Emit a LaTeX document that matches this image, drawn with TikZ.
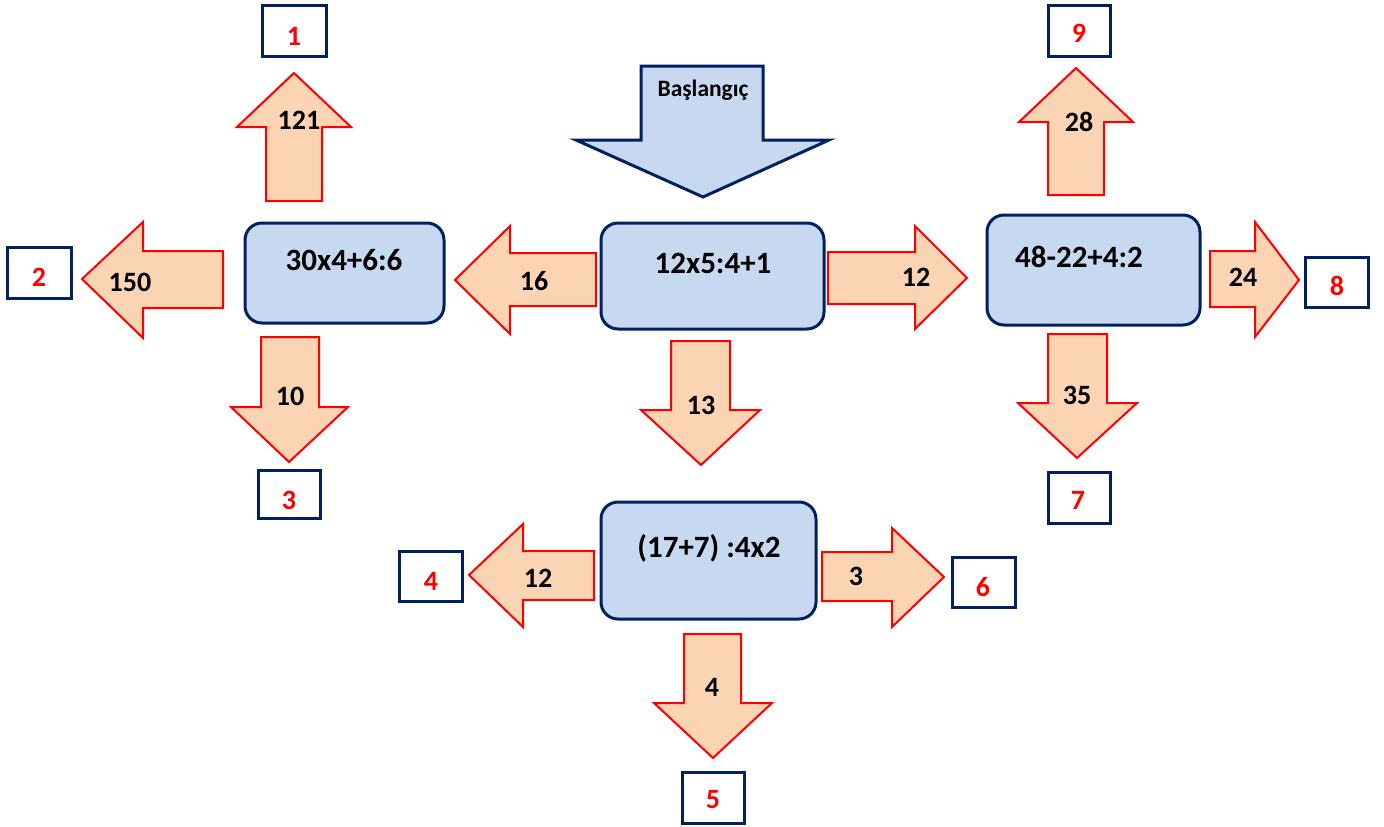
\documentclass[tikz,border=0pt]{standalone}
\usepackage{fontspec}
\setmainfont{Carlito}
\definecolor{peach}{HTML}{FBD4B4}
\definecolor{arrred}{HTML}{FF0000}
\definecolor{navy}{HTML}{002060}
\definecolor{paleblue}{HTML}{C6D9F1}
\tikzset{
  arr/.style={fill=peach, draw=arrred, line width=2pt, line join=miter},
  startarr/.style={fill=paleblue, draw=navy, line width=3pt, line join=miter},
  bluebox/.style={draw=navy, fill=paleblue, line width=3pt, rounded corners=17pt, inner sep=0pt},
  numbox/.style={draw=navy, fill=white, line width=3pt, inner sep=0pt},
  boxtext/.style={inner sep=0pt, font=\bfseries\fontsize{31}{36}\selectfont, text=black},
  arrtext/.style={inner sep=0pt, font=\bfseries\fontsize{28}{33}\selectfont, text=black},
  numtext/.style={inner sep=0pt, font=\bfseries\fontsize{28}{33}\selectfont, text=arrred},
  starttext/.style={inner sep=0pt, font=\bfseries\fontsize{23.5}{28}\selectfont, text=black}
}
\begin{document}
\begin{tikzpicture}[x=1pt, y=-1pt]
\useasboundingbox (0,0) rectangle (1384,827);

% start arrow
\draw[startarr] (641,66) -- (763,66) -- (763,140) -- (829,140) -- (703,197) -- (576,140) -- (641,140) -- cycle;
\node[starttext] (start) at (703,90) {Başlangıç};

% blue boxes
\node[bluebox, minimum width=199pt, minimum height=100pt] (A) at (344.5,273) {};
\node[boxtext] (At) at (344,260) {30x4+6:6};
\node[bluebox, minimum width=223pt, minimum height=106pt] (C) at (712.5,276) {};
\node[boxtext] (Ct) at (713,263) {12x5:4+1};
\node[bluebox, minimum width=213pt, minimum height=110pt] (R) at (1093.5,270) {};
\node[boxtext] (Rt) at (1079,257) {48-22+4:2};
\node[bluebox, minimum width=215pt, minimum height=117pt] (B) at (708.5,560.5) {};
\node[boxtext] (Bt) at (709,548) {(17+7) :4x2};

% arrows
% up 121
\draw[arr] (266,201) -- (266,127) -- (237,127) -- (294,73) -- (351,127) -- (322,127) -- (322,201) -- cycle;
\node[arrtext] (a121) at (299,120) {121};
% left 150
\draw[arr] (223,251) -- (143,251) -- (143,222) -- (82,279) -- (143,338) -- (143,308) -- (223,308) -- cycle;
\node[arrtext] (a150) at (130,282) {150};
% down 10
\draw[arr] (261,337) -- (319,337) -- (319,407) -- (348,407) -- (289,462) -- (231,407) -- (261,407) -- cycle;
\node[arrtext] (a10) at (290,396) {10};
% left 16
\draw[arr] (596,253) -- (510,253) -- (510,226) -- (455,280) -- (510,334) -- (510,306) -- (596,306) -- cycle;
\node[arrtext] (a16) at (534,281) {16};
% right 12
\draw[arr] (828,252) -- (915,252) -- (915,226) -- (967,278) -- (915,329) -- (915,304) -- (828,304) -- cycle;
\node[arrtext] (a12r) at (916,277) {12};
% down 13
\draw[arr] (671,341) -- (730,341) -- (730,410) -- (760,410) -- (701,465) -- (641,410) -- (671,410) -- cycle;
\node[arrtext] (a13) at (701,405) {13};
% up 28
\draw[arr] (1048,195) -- (1048,122) -- (1019,122) -- (1076,68) -- (1133,122) -- (1104,122) -- (1104,195) -- cycle;
\node[arrtext] (a28) at (1079,122) {28};
% right 24
\draw[arr] (1210,251) -- (1255,251) -- (1255,222) -- (1299,280) -- (1255,337) -- (1255,307) -- (1210,307) -- cycle;
\node[arrtext] (a24) at (1243,277) {24};
% down 35
\draw[arr] (1048,334) -- (1107,334) -- (1107,403) -- (1137,403) -- (1077,458) -- (1018,403) -- (1048,403) -- cycle;
\node[arrtext] (a35) at (1077,395) {35};
% left 12 bottom
\draw[arr] (594,551) -- (523,551) -- (523,524) -- (469,575) -- (523,627) -- (523,600) -- (594,600) -- cycle;
\node[arrtext] (a12l) at (538,578) {12};
% right 3
\draw[arr] (822,552) -- (892,552) -- (892,528) -- (944,577) -- (892,627) -- (892,601) -- (822,601) -- cycle;
\node[arrtext] (a3) at (856,576) {3};
% down 4
\draw[arr] (684,634) -- (741,634) -- (741,703) -- (772,703) -- (713,758) -- (654,703) -- (684,703) -- cycle;
\node[arrtext] (a4) at (712,687) {4};

% number boxes
\node[numbox, minimum width=64pt, minimum height=51pt] (n1) at (294,30.5) {};
\node[numtext] (t1) at (294,36) {1};
\node[numbox, minimum width=64pt, minimum height=51pt] (n2) at (39,272.5) {};
\node[numtext] (t2) at (39,277) {2};
\node[numbox, minimum width=62pt, minimum height=48pt] (n3) at (289,494) {};
\node[numtext] (t3) at (289,500) {3};
\node[numbox, minimum width=63pt, minimum height=50pt] (n4) at (430.5,576) {};
\node[numtext] (t4) at (431,581) {4};
\node[numbox, minimum width=62pt, minimum height=51pt] (n5) at (713,797.5) {};
\node[numtext] (t5) at (713,800) {5};
\node[numbox, minimum width=63pt, minimum height=50pt] (n6) at (983.5,582) {};
\node[numtext] (t6) at (983,587) {6};
\node[numbox, minimum width=62pt, minimum height=51pt] (n7) at (1079,497.5) {};
\node[numtext] (t7) at (1078,500) {7};
\node[numbox, minimum width=63pt, minimum height=50pt] (n8) at (1336.5,282) {};
\node[numtext] (t8) at (1337,286) {8};
\node[numbox, minimum width=62pt, minimum height=51pt] (n9) at (1079,30.5) {};
\node[numtext] (t9) at (1079,33) {9};
\end{tikzpicture}
\end{document}
